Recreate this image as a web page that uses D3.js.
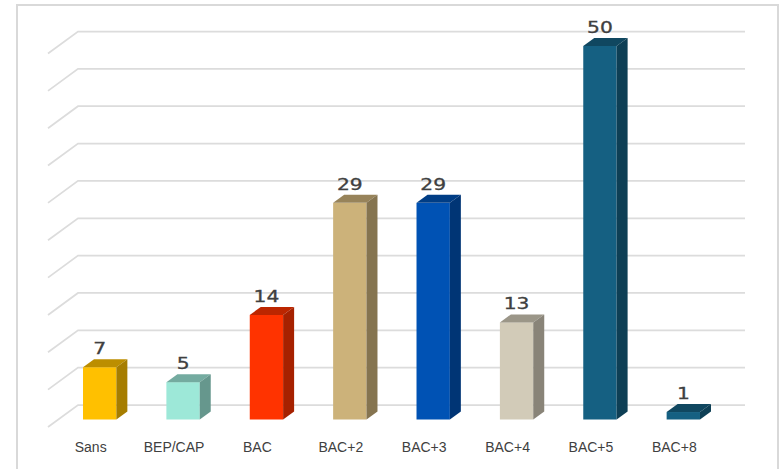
<!DOCTYPE html>
<html>
<head>
<meta charset="utf-8">
<script src="https://cdn.jsdelivr.net/npm/d3@7"></script>
<style>
  body { margin: 0; background: #fff; }
  svg { display: block; }
</style>
</head>
<body>
<div id="chart-area"></div>
<script>
var categories = ["Sans", "BEP/CAP", "BAC", "BAC+2", "BAC+3", "BAC+4", "BAC+5", "BAC+8"];
var values = [7, 5, 14, 29, 29, 13, 50, 1];
var colors = ["#FFC000", "#9DE8D8", "#FF3300", "#CCB27A", "#0052B4", "#D2CBB8", "#156082", "#156082"];
var gridTicks = [0, 5, 10, 15, 20, 25, 30, 35, 40, 45, 50];

var width = 782, height = 469;
var depthX = 11, depthY = 8;     // bar depth
var wallX = 30, wallY = 22;      // floor depth of the back wall

var svg = d3.select("#chart-area").append("svg")
  .attr("width", width)
  .attr("height", height);

// outer frame, runs off the bottom of the picture
svg.append("rect")
  .attr("x", 17).attr("y", 5)
  .attr("width", 761).attr("height", 480)
  .attr("fill", "none")
  .attr("stroke", "#d9d9d9")
  .attr("stroke-width", 2);

var x = d3.scaleBand()
  .domain(categories)
  .range([58, 725])
  .paddingInner(0.6)
  .paddingOuter(0.3);

var y = d3.scaleLinear()
  .domain([0, 50])
  .range([419.5, 46]);

// grid lines: sit on the back wall, step down to the front edge on the left
var wallLeft = 78, wallRight = 745;
var grid = d3.line();
svg.selectAll(".grid").data(gridTicks).enter().append("path")
  .attr("class", "grid")
  .attr("fill", "none")
  .attr("stroke", "#dcdcdc")
  .attr("stroke-width", 1.75)
  .attr("d", (d) => {
    var yy = y(d) - 14.5;
    return grid([[wallLeft - wallX, yy + wallY], [wallLeft, yy], [wallRight, yy]]);
  });

var data = categories.map((c, i) => ({ name: c, value: values[i], color: colors[i] }));

var bars = svg.selectAll(".bar").data(data).enter().append("g").attr("class", "bar");

// front
bars.append("rect")
  .attr("x", (d) => x(d.name))
  .attr("y", (d) => y(d.value))
  .attr("width", x.bandwidth())
  .attr("height", (d) => y(0) - y(d.value))
  .attr("fill", (d) => d.color);

// top
bars.append("polygon")
  .attr("fill", (d) => d3.rgb(d.color).darker(0.85))
  .attr("points", (d) => {
    var l = x(d.name), r = l + x.bandwidth(), t = y(d.value);
    return [[l, t], [l + depthX, t - depthY], [r + depthX, t - depthY], [r, t]].join(" ");
  });

// side
bars.append("polygon")
  .attr("fill", (d) => d3.rgb(d.color).darker(1.2))
  .attr("points", (d) => {
    var r = x(d.name) + x.bandwidth(), t = y(d.value), b = y(0);
    return [[r, t], [r + depthX, t - depthY], [r + depthX, b - depthY], [r, b]].join(" ");
  });

// value labels, the digits are stretched wide in the original
bars.append("text")
  .attr("transform", (d) => "translate(" + (x(d.name) + x.bandwidth() / 2) + "," + (y(d.value) - 13) + ") scale(1.35,1)")
  .attr("text-anchor", "middle")
  .attr("font-family", "DejaVu Sans")
  .attr("font-size", 15)
  .attr("fill", "#404040")
  .attr("stroke", "#404040")
  .attr("stroke-width", 0.3)
  .text((d) => d.value);

// category labels
svg.selectAll(".cat").data(categories).enter().append("text")
  .attr("class", "cat")
  .attr("x", (d) => x(d) + x.bandwidth() / 2 - 9)
  .attr("y", 452)
  .attr("text-anchor", "middle")
  .attr("font-family", "Liberation Sans")
  .attr("font-size", 14)
  .attr("fill", "#404040")
  .text((d) => d);
</script>
</body>
</html>
